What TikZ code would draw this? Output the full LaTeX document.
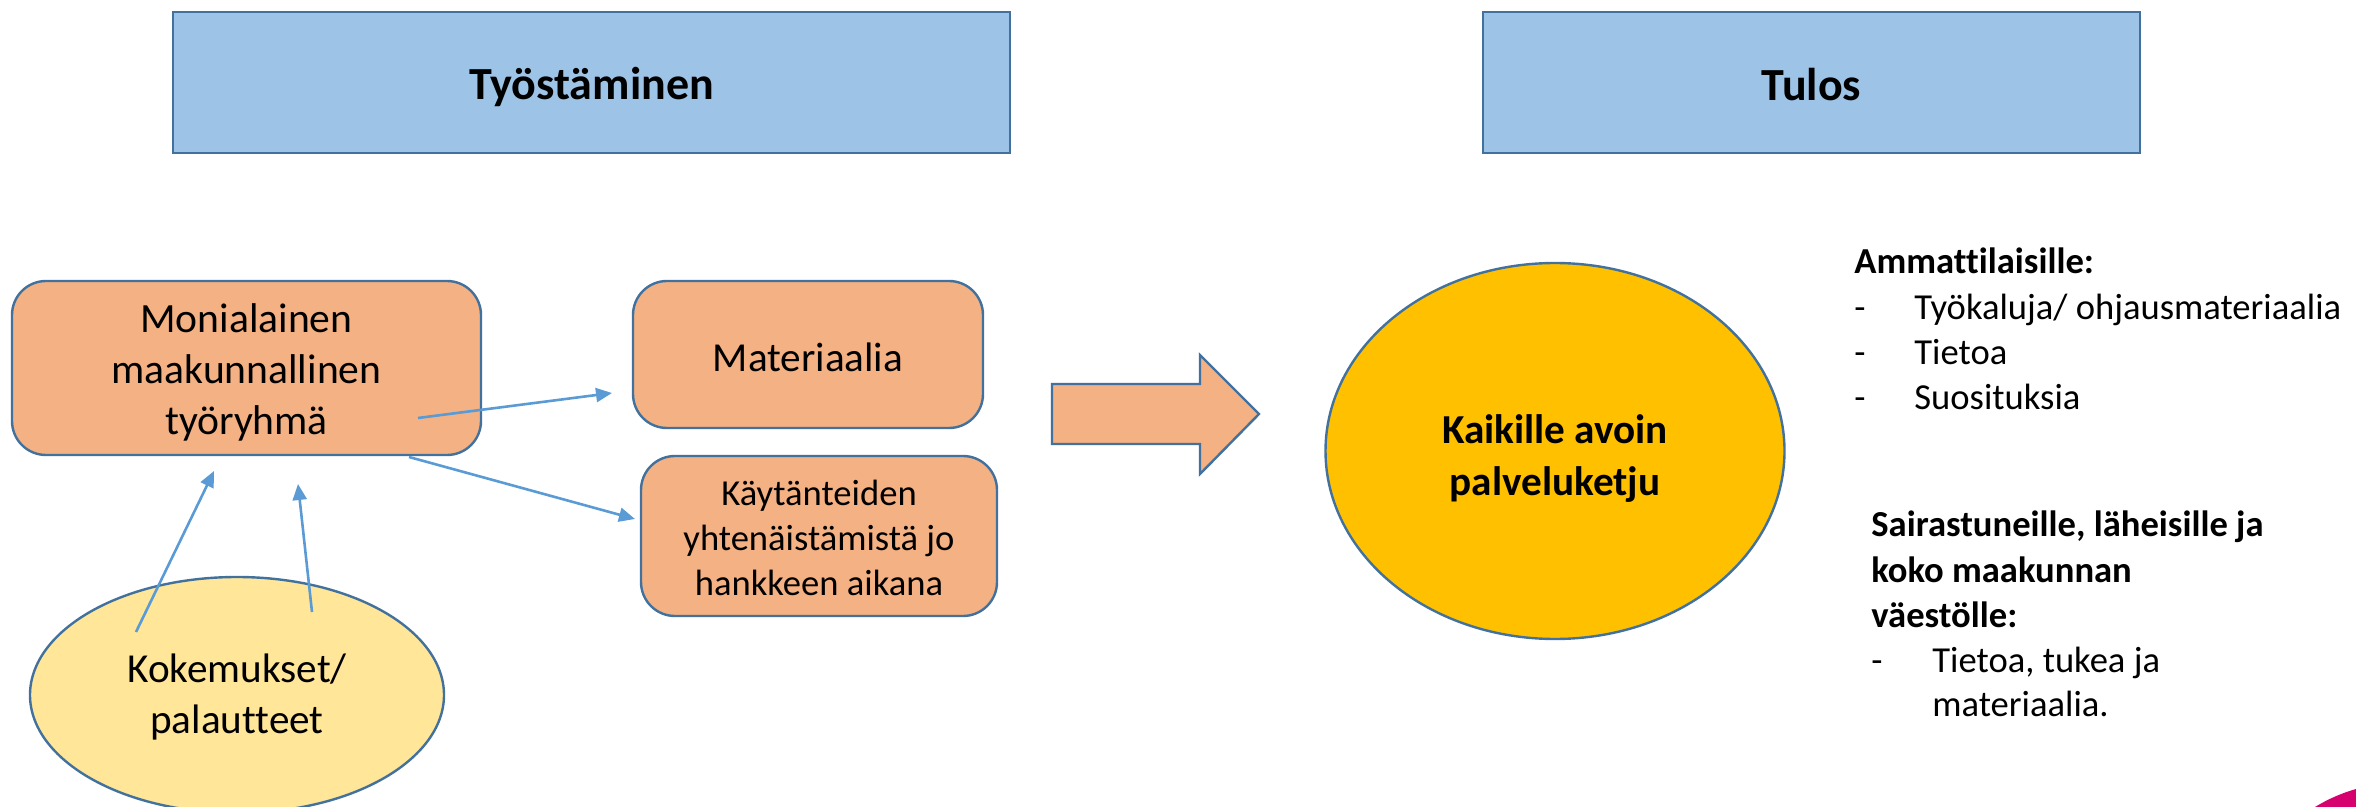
\documentclass[tikz,border=0pt]{standalone}
\usepackage{fontspec}
\setmainfont{Carlito}[Ligatures=CommonOff]
\usetikzlibrary{arrows.meta,shapes.geometric}
\definecolor{hdrfill}{HTML}{9DC3E6}
\definecolor{edgeblue}{HTML}{41719C}
\definecolor{boxfill}{HTML}{F4B183}
\definecolor{yelfill}{HTML}{FFE699}
\definecolor{goldfill}{HTML}{FFC000}
\definecolor{arrblue}{HTML}{5B9BD5}
\definecolor{pinkc}{HTML}{D6006F}
\tikzset{
  hdr/.style={draw=edgeblue, fill=hdrfill, line width=1.4pt, inner sep=0pt},
  hdrtext/.style={inner sep=0pt, font=\bfseries\fontsize{23}{28}\selectfont},
  obox/.style={draw=edgeblue, fill=boxfill, line width=1.2pt, rounded corners=17pt,
    inner sep=0pt},
  oval/.style={ellipse, draw=edgeblue, line width=1.2pt, inner sep=0pt},
  ctext/.style={inner sep=0pt, align=center},
  conn/.style={draw=arrblue, line width=1.3pt, -{Triangle[length=8pt,width=7pt]}},
  rtext/.style={anchor=base west, inner sep=0pt, font=\fontsize{18.3}{22}\selectfont},
  rbold/.style={rtext, font=\bfseries\fontsize{18.3}{22}\selectfont}
}
\begin{document}
\begin{tikzpicture}[x=0.5pt,y=-0.5pt]
\useasboundingbox (0,0) rectangle (2356,807);
% headers
\node[hdr, minimum width=418.5pt, minimum height=70.5pt] (tyo) at (591.5,82.5) {};
\node[hdrtext] (tyoT) at (591.5,87) {Työstäminen};
\node[hdr, minimum width=328.5pt, minimum height=70.5pt] (tulos) at (1811.5,82.5) {};
\node[hdrtext] (tulosT) at (1811.5,85) {Tulos};
% left boxes
\node[obox, minimum width=234.5pt, minimum height=87pt] (mon) at (246.5,368) {};
\node[ctext, font=\fontsize{20.8}{25.5}\selectfont] (monT) at (246.5,372)
  {Monialainen\\maakunnallinen\\työryhmä};
\node[obox, minimum width=175pt, minimum height=73.5pt] (mat) at (808,354.5) {};
\node[ctext, font=\fontsize{20.6}{25.5}\selectfont] (matT) at (808,357) {Materiaalia};
\node[obox, minimum width=178pt, minimum height=80pt] (kay) at (819,536) {};
\node[ctext, font=\fontsize{18.3}{22.5}\selectfont] (kayT) at (819,538)
  {Käytänteiden\\yhtenäistämistä jo\\hankkeen aikana};
\node[oval, fill=yelfill, minimum width=207pt, minimum height=118pt] (kok) at (237,695) {};
\node[ctext, font=\fontsize{20.6}{25.5}\selectfont] (kokT) at (237,697)
  {Kokemukset/\\palautteet};
% block arrow
\draw[draw=edgeblue, fill=boxfill, line width=1.2pt, line join=miter]
  (1052,384) -- (1200,384) -- (1200,355) -- (1259,414) -- (1200,474)
  -- (1200,444) -- (1052,444) -- cycle;
% result ellipse
\node[oval, fill=goldfill, minimum width=229.5pt, minimum height=188pt] (kai) at (1555,451) {};
\node[ctext, font=\bfseries\fontsize{20.6}{26}\selectfont] (kaiT) at (1555,459)
  {Kaikille avoin\\palveluketju};
% connectors
\coordinate (c1s) at (418,418); \coordinate (c1e) at (612,393);
\coordinate (c2s) at (409,457); \coordinate (c2e) at (635,519);
\coordinate (c3s) at (136,632); \coordinate (c3e) at (214,471);
\coordinate (c4s) at (312,612); \coordinate (c4e) at (298,484);
\draw[conn] (c1s) -- (c1e);
\draw[conn] (c2s) -- (c2e);
\draw[conn] (c3s) -- (c3e);
\draw[conn] (c4s) -- (c4e);
% right text
\node[rbold] (amm) at (1854,274) {Ammattilaisille:};
\node[rtext] (d1) at (1854,320) {-};
\node[rtext] (t1) at (1914,320) {Työkaluja/ ohjausmateriaalia};
\node[rtext] (d2) at (1854,365) {-};
\node[rtext] (t2) at (1914,365) {Tietoa};
\node[rtext] (d3) at (1854,410) {-};
\node[rtext] (t3) at (1914,410) {Suosituksia};
\node[rbold] (sa1) at (1871,537) {Sairastuneille, läheisille ja};
\node[rbold] (sa2) at (1871,582) {koko maakunnan};
\node[rbold] (sa3) at (1871,627) {väestölle:};
\node[rtext] (d4) at (1871,672) {-};
\node[rtext] (t4) at (1932,672) {Tietoa, tukea ja};
\node[rtext] (t5) at (1932,716) {materiaalia.};
% corner decoration
\fill[pinkc] (2315,807) .. controls (2328,799) and (2342,793) .. (2356,789) -- (2356,807) -- cycle;
\end{tikzpicture}
\end{document}
